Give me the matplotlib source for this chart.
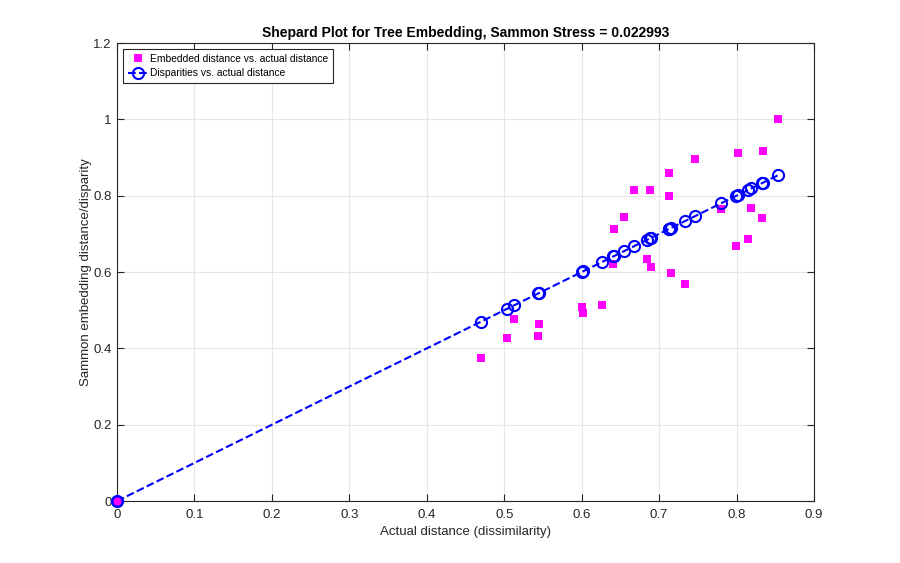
import numpy as np
import matplotlib
matplotlib.use('Agg')
import matplotlib.pyplot as plt

plt.rcParams['font.family'] = ['Liberation Sans', 'DejaVu Sans']

# actual distances (dissimilarities), embedded distances, disparities
actual = [0.0, 0.470, 0.503, 0.513, 0.544, 0.545, 0.600, 0.602, 0.626, 0.641,
          0.642, 0.655, 0.668, 0.684, 0.688, 0.690, 0.713, 0.713, 0.715, 0.734,
          0.747, 0.780, 0.799, 0.802, 0.815, 0.819, 0.833, 0.834, 0.854]
embedded = [0.0, 0.376, 0.427, 0.476, 0.432, 0.463, 0.508, 0.493, 0.513, 0.620,
            0.714, 0.743, 0.814, 0.633, 0.814, 0.612, 0.859, 0.798, 0.598, 0.569,
            0.897, 0.764, 0.669, 0.913, 0.686, 0.767, 0.741, 0.917, 1.000]
disparities = [0.0, 0.470, 0.503, 0.513, 0.544, 0.545, 0.600, 0.602, 0.626, 0.641,
               0.642, 0.655, 0.668, 0.684, 0.688, 0.690, 0.713, 0.713, 0.715, 0.734,
               0.747, 0.780, 0.799, 0.802, 0.815, 0.819, 0.833, 0.834, 0.854]
stress = 0.022993

fig = plt.figure(figsize=(9, 5.63), dpi=100)
ax = fig.add_axes([0.13, 0.110, 0.7744, 0.8136])

ax.plot(actual, embedded, 's', color='#ff00ff', markersize=6, markeredgewidth=0,
        label='Embedded distance vs. actual distance', zorder=3, clip_on=False)
order = np.argsort(actual)
ax.plot(np.array(actual)[order], np.array(disparities)[order], '--o', color='#0000ff',
        markerfacecolor='none', markersize=8, markeredgewidth=1.5, linewidth=1.5,
        label='Disparities vs. actual distance', zorder=4, clip_on=False)
# origin marker drawn filled as in the reference
ax.plot(actual[:1], embedded[:1], 'o', color='#ff00ff', markeredgecolor='#0000ff',
        markersize=7, markeredgewidth=1.2, zorder=5, clip_on=False)

ax.set_xlim(0, 0.9)
ax.set_ylim(0, 1.2)
ax.set_xticks(np.arange(0, 0.91, 0.1))
ax.set_xticklabels(['0', '0.1', '0.2', '0.3', '0.4', '0.5', '0.6', '0.7', '0.8', '0.9'])
ax.set_yticks(np.arange(0, 1.21, 0.2))
ax.set_yticklabels(['0', '0.2', '0.4', '0.6', '0.8', '1', '1.2'])
ax.grid(True, color='#e6e6e6', linewidth=0.8)
ax.set_axisbelow(True)
ax.tick_params(direction='in', top=True, right=True, labelsize=9.5, colors='#262626',
               length=5, width=0.8)
ax.tick_params(axis='x', pad=6)
ax.tick_params(axis='y', pad=4)
for s in ax.spines.values():
    s.set_color('#262626')
    s.set_linewidth(0.8)

ax.set_xlabel('Actual distance (dissimilarity)', fontsize=9.5, color='#262626', labelpad=3)
ax.set_ylabel('Sammon embedding distance/disparity', fontsize=9.5, color='#262626', labelpad=1)
ax.set_title('Shepard Plot for Tree Embedding, Sammon Stress = %g' % stress,
             fontsize=10, fontweight='bold', color='#000000', pad=4)

leg = ax.legend(loc='upper left', fontsize=7.4, fancybox=False, framealpha=1,
                edgecolor='#262626', borderpad=0.45, handlelength=2.0,
                handletextpad=0.2, borderaxespad=0.6, labelspacing=0.45)
leg.get_frame().set_linewidth(0.8)

fig.savefig('out.png', dpi=100)
